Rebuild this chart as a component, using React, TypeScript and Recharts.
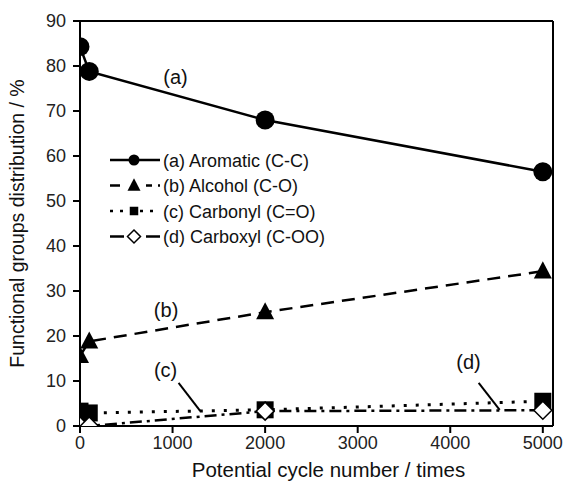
import React from 'react';
import { LineChart, Line, XAxis, YAxis, ReferenceLine, ReferenceDot, Label } from 'recharts';

const cycles = [0, 100, 2000, 5000];
const aromatic = [84.3, 78.8, 68, 56.5];
const alcohol = [15.6, 18.8, 25.3, 34.4];
const carbonyl = [3.3, 2.9, 3.6, 5.5];
const carboxyl = [0, 0, 3.3, 3.5];

const xTicks = [0, 1000, 2000, 3000, 4000, 5000];
const yTicks = [0, 10, 20, 30, 40, 50, 60, 70, 80, 90];

const seriesNames = ['(a) Aromatic (C-C)', '(b) Alcohol (C-O)', '(c) Carbonyl (C=O)', '(d) Carboxyl (C-OO)'];

const data = cycles.map((c, i) => ({
  cycle: c,
  aromatic: aromatic[i],
  alcohol: alcohol[i],
  carbonyl: carbonyl[i],
  carboxyl: carboxyl[i],
}));

const FONT = '"Liberation Sans", Arial, sans-serif';

type Kind = 'circle' | 'triangle' | 'square' | 'diamond';

const drawMarker = (kind: Kind, cx: number, cy: number, s: number, key?: any) => {
  if (kind === 'circle') return <circle key={key} cx={cx} cy={cy} r={s} fill="#000" />;
  if (kind === 'triangle')
    return <polygon key={key} points={`${cx},${cy - s * 1.1} ${cx + s},${cy + s * 0.8} ${cx - s},${cy + s * 0.8}`} fill="#000" />;
  if (kind === 'square') return <rect key={key} x={cx - s * 0.85} y={cy - s * 0.85} width={s * 1.7} height={s * 1.7} fill="#000" />;
  return <polygon key={key} points={`${cx},${cy - s} ${cx + s},${cy} ${cx},${cy + s} ${cx - s},${cy}`} fill="#fff" stroke="#000" strokeWidth={1.5} />;
};

const dotFn = (kind: Kind, s: number) => (p: any) => drawMarker(kind, p.cx, p.cy, s, `${kind}-${p.index}`);

const legendStyles = [
  { kind: 'circle' as Kind, dash: undefined as string | undefined, s: 5.5, gap: false },
  { kind: 'triangle' as Kind, dash: '10 6', s: 6.5, gap: true },
  { kind: 'square' as Kind, dash: '3 7', s: 5, gap: false },
  { kind: 'diamond' as Kind, dash: undefined as string | undefined, s: 6.5, gap: true },
];

const LegendBox = () => (
  <svg width={260} height={100} style={{ position: 'absolute', left: 110, top: 148 }}>
    {seriesNames.map((name, i) => {
      const y = 12 + i * 25.5;
      const st = legendStyles[i];
      return (
        <g key={name}>
          <line x1={0} y1={y} x2={50} y2={y} stroke="#000" strokeWidth={2.5} strokeDasharray={st.dash} />
          {st.gap && <rect x={14} y={y - 8} width={22} height={16} fill="#fff" />}
          {drawMarker(st.kind, 24, y, st.s)}
          <text x={53} y={y + 6.5} fontSize={18} fontFamily={FONT} fill="#111">{name}</text>
        </g>
      );
    })}
  </svg>
);

const annStyle = { position: 'center' as const, fontSize: 20, fontFamily: FONT, fill: '#111' };

export default function App() {
  return (
    <div style={{ position: 'absolute', left: 0, top: 0, width: 566, height: 491, background: '#fff' }}>
      <LineChart width={566} height={491} data={data} margin={{ top: 21, right: 13, left: 0, bottom: 0 }}>
        <XAxis
          dataKey="cycle"
          type="number"
          domain={[0, 5110]}
          ticks={xTicks}
          allowDataOverflow
          height={65}
          tickSize={7}
          tickMargin={3}
          axisLine={{ stroke: '#000', strokeWidth: 2 }}
          tickLine={{ stroke: '#000', strokeWidth: 2 }}
          tick={{ fill: '#222', fontSize: 18, fontFamily: FONT }}
        >
          <Label value="Potential cycle number / times" position="insideBottom" offset={14} dx={12} style={{ fill: '#111', fontSize: 20.5, fontFamily: FONT }} />
        </XAxis>
        <YAxis
          type="number"
          domain={[0, 90]}
          ticks={yTicks}
          allowDataOverflow
          width={80}
          tickSize={7}
          tickMargin={7}
          axisLine={{ stroke: '#000', strokeWidth: 2 }}
          tickLine={{ stroke: '#000', strokeWidth: 2 }}
          tick={{ fill: '#222', fontSize: 18, fontFamily: FONT }}
        >
          <Label value="Functional groups distribution / %" angle={-90} position="insideLeft" offset={17} style={{ textAnchor: 'middle', fill: '#111', fontSize: 19.5, fontFamily: FONT }} />
        </YAxis>
        <ReferenceLine y={90} stroke="#000" strokeWidth={2} />
        <ReferenceLine x={5110} stroke="#000" strokeWidth={2} />
        <Line dataKey="aromatic" stroke="#000" strokeWidth={2.5} dot={dotFn('circle', 9.5)} activeDot={false} isAnimationActive={false} />
        <Line dataKey="alcohol" stroke="#000" strokeWidth={2.5} strokeDasharray="13 8" dot={dotFn('triangle', 9)} activeDot={false} isAnimationActive={false} />
        <Line dataKey="carbonyl" stroke="#000" strokeWidth={3} strokeDasharray="3 9" dot={dotFn('square', 10)} activeDot={false} isAnimationActive={false} />
        <Line dataKey="carboxyl" stroke="#000" strokeWidth={2.5} strokeDasharray="12 5 3 5" dot={dotFn('diamond', 9)} activeDot={false} isAnimationActive={false} />
        <ReferenceLine segment={[{ x: 1065, y: 9.6 }, { x: 1300, y: 3.3 }]} stroke="#000" strokeWidth={2} />
        <ReferenceLine segment={[{ x: 4307, y: 9.6 }, { x: 4534, y: 3.6 }]} stroke="#000" strokeWidth={2} />
        <ReferenceDot x={1032} y={77.6} r={0} fill="none" stroke="none" label={{ value: '(a)', ...annStyle }} />
        <ReferenceDot x={930} y={25.8} r={0} fill="none" stroke="none" label={{ value: '(b)', ...annStyle }} />
        <ReferenceDot x={925} y={12.4} r={0} fill="none" stroke="none" label={{ value: '(c)', ...annStyle }} />
        <ReferenceDot x={4197} y={14.2} r={0} fill="none" stroke="none" label={{ value: '(d)', ...annStyle }} />
      </LineChart>
      <LegendBox />
    </div>
  );
}
